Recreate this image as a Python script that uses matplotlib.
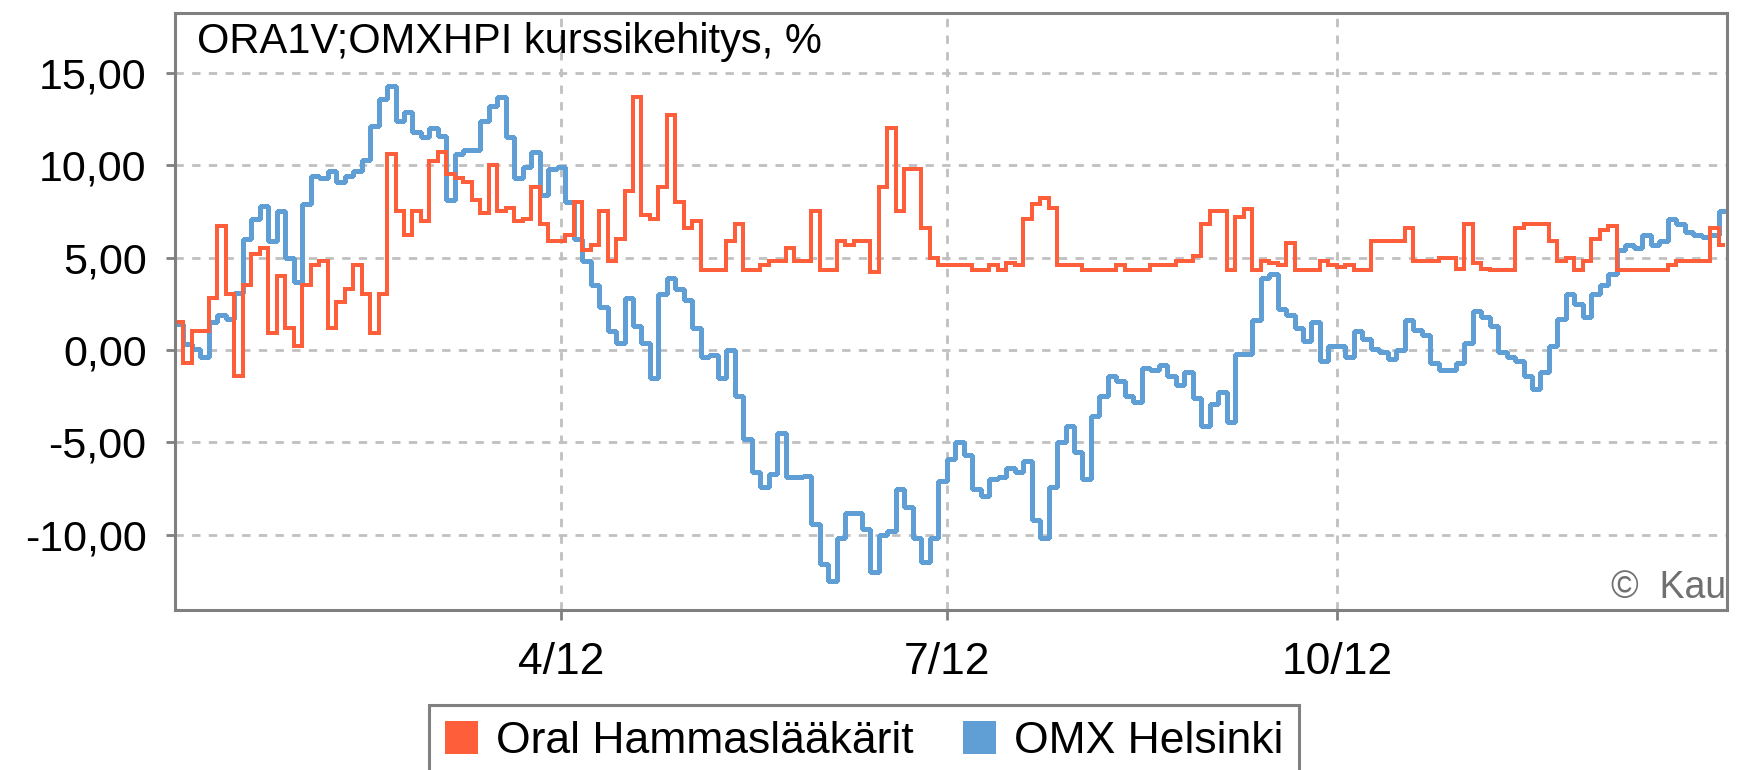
import pandas as pd
import matplotlib
matplotlib.use('Agg')
import matplotlib.pyplot as plt
from matplotlib.patches import Patch
from datetime import datetime

plt.rcParams['font.family'] = ['Liberation Sans', 'DejaVu Sans']

# every second calendar day of 2012
dates = pd.date_range('2012-01-02', '2012-12-31', freq='2D')

# Oral Hammaslääkärit, % change
ora = [1.5, -0.7, 1.0, 1.0, 2.8, 6.7, 3.0, -1.4, 3.5, 5.2, 5.5, 0.9, 4.0, 1.2, 0.2, 3.5,
       4.6, 4.8, 1.2, 2.6, 3.3, 4.6, 3.0, 0.9, 3.0, 10.6, 7.5, 6.2, 7.5, 7.0, 10.2, 10.7,
       9.5, 9.3, 9.1, 8.1, 7.4, 10.0, 7.5, 7.7, 7.0, 7.1, 8.8, 6.8, 5.9, 5.9,
       6.2, 8.0, 5.4, 5.7, 7.5, 4.8, 6.0, 8.6, 13.7, 7.3, 7.1, 8.8, 12.7, 8.0, 6.6, 7.0,
       4.3, 4.3, 4.3, 5.9, 6.8, 4.3, 4.3, 4.6, 4.8, 4.8, 5.5, 4.8, 4.8, 7.5, 4.3, 4.3,
       5.9, 5.7, 5.9, 5.9, 4.2, 8.8, 12.0, 7.5, 9.8, 9.8, 6.6, 5.0, 4.6, 4.6,
       4.6, 4.6, 4.3, 4.3, 4.6, 4.3, 4.7, 4.6, 7.1, 7.9, 8.2, 7.7, 4.6, 4.6, 4.6, 4.3,
       4.3, 4.3, 4.3, 4.6, 4.3, 4.3, 4.3, 4.6, 4.6, 4.6, 4.8, 4.8, 5.1, 6.8, 7.5, 7.5,
       4.3, 7.2, 7.6, 4.3, 4.8, 4.7, 4.6, 5.8, 4.3, 4.3, 4.3, 4.8, 4.6,
       4.5, 4.6, 4.3, 4.3, 5.9, 5.9, 5.9, 5.9, 6.6, 4.8, 4.8, 4.8, 5.0, 5.0, 4.4, 6.8,
       4.7, 4.4, 4.3, 4.3, 4.3, 6.6, 6.8, 6.8, 6.8, 5.9, 4.8, 5.0, 4.3, 4.8, 6.0, 6.5,
       6.7, 4.3, 4.3, 4.3, 4.3, 4.3, 4.3, 4.6, 4.8, 4.8, 4.8, 4.8, 6.6, 5.7]

# OMX Helsinki, % change
omx = [1.4, 0.3, 0.05, -0.4, 1.5, 1.9, 1.7, 3.1, 6.0, 7.1, 7.8, 5.9, 7.5, 5.0, 3.7, 7.9,
       9.4, 9.3, 9.7, 9.1, 9.4, 9.7, 10.3, 12.1, 13.6, 14.3, 12.4, 12.9, 11.8, 11.5, 12.0, 11.6,
       8.1, 10.6, 10.8, 10.8, 12.4, 13.2, 13.7, 11.5, 9.3, 9.9, 10.7, 8.4, 9.8, 9.9,
       8.0, 6.0, 4.8, 3.5, 2.3, 1.0, 0.4, 2.8, 1.3, 0.4, -1.5, 3.0, 3.9, 3.3, 2.7, 1.2,
       -0.4, -0.3, -1.5, 0.0, -2.5, -4.8, -6.6, -7.4, -6.7, -4.5, -6.9, -6.9, -6.8, -9.4, -11.6, -12.5,
       -10.2, -8.8, -8.8, -9.7, -12.0, -10.0, -9.8, -7.5, -8.5, -10.2, -11.5, -10.2, -7.1, -5.9,
       -5.0, -5.7, -7.5, -7.9, -7.0, -6.9, -6.4, -6.6, -6.0, -9.2, -10.2, -7.4, -5.0, -4.1, -5.5, -7.0,
       -3.6, -2.5, -1.4, -1.7, -2.5, -2.8, -1.0, -1.1, -0.8, -1.4, -1.9, -1.2, -2.6, -4.1, -2.9, -2.3,
       -3.9, -0.2, -0.2, 1.6, 3.9, 4.1, 2.2, 1.9, 1.2, 0.5, 1.5, -0.6, 0.2,
       0.2, -0.4, 1.0, 0.6, 0.05, -0.1, -0.5, 0.0, 1.6, 1.1, 0.8, -0.7, -1.1, -1.1, -0.7, 0.4,
       2.1, 1.8, 1.3, -0.1, -0.4, -0.6, -1.4, -2.1, -1.2, 0.2, 1.7, 3.0, 2.5, 1.8, 3.0, 3.5,
       4.1, 5.4, 5.7, 5.5, 6.2, 5.7, 5.9, 7.1, 6.8, 6.4, 6.2, 6.1, 6.2, 7.5]

series_names = ['Oral Hammaslääkärit', 'OMX Helsinki']
ytick_vals = [-10, -5, 0, 5, 10, 15]
ytick_labels = ['-10,00', '-5,00', '0,00', '5,00', '10,00', '15,00']
xtick_dates = [datetime(2012, 4, 1), datetime(2012, 7, 1), datetime(2012, 10, 1)]
xtick_labels = ['4/12', '7/12', '10/12']

orange = '#ff5e3a'
blue = '#5f9fd6'
gray = '#808080'

fig = plt.figure(figsize=(17.38, 7.7), dpi=100)
ax = fig.add_axes([0.1007, 0.2078, 0.893, 0.7753])

ax.plot(dates, omx, color=blue, lw=2.2, drawstyle='steps-mid', antialiased=False)
ax.plot(dates, ora, color=orange, lw=2.7, drawstyle='steps-mid', antialiased=False)

ax.set_xlim(datetime(2012, 1, 1), datetime(2013, 1, 1))
ax.set_ylim(-14.07, 18.23)
ax.set_yticks(ytick_vals)
ax.set_yticklabels(ytick_labels)
ax.set_xticks(xtick_dates)
ax.set_xticklabels(xtick_labels)

for s in ax.spines.values():
    s.set_color(gray)
    s.set_linewidth(2.2)
ax.tick_params(axis='y', length=6.5, width=2, color=gray, pad=14, labelsize=31)
ax.tick_params(axis='x', length=7, width=2, color=gray, pad=16, labelsize=32)
ax.grid(True, color='#c0c0c0', linewidth=2, linestyle=(0, (3, 3)))
ax.set_axisbelow(True)

fig.text(0.1134, 0.9312, 'ORA1V;OMXHPI kurssikehitys, %', fontsize=30, va='baseline', ha='left')

# copyright note, shown cut at the plot edge in the original
ax.text(0.9931, 0.2234, '©  Kau', transform=fig.transFigure, fontsize=27,
        color='#707070', va='baseline', ha='right')

handles = [Patch(facecolor=orange, edgecolor='none', label=series_names[0]),
           Patch(facecolor=blue, edgecolor='none', label=series_names[1])]
leg = fig.legend(handles=handles, loc='upper left', bbox_to_anchor=(0.2468, 0.0844), ncol=2,
                 fontsize=32, frameon=True, fancybox=False, shadow=False, framealpha=1,
                 edgecolor=gray, handlelength=0.75, handleheight=0.75, handletextpad=0.4,
                 columnspacing=1.1, borderpad=0.36, borderaxespad=0)
leg.get_frame().set_linewidth(2.2)

fig.savefig('out.png', dpi=100)
